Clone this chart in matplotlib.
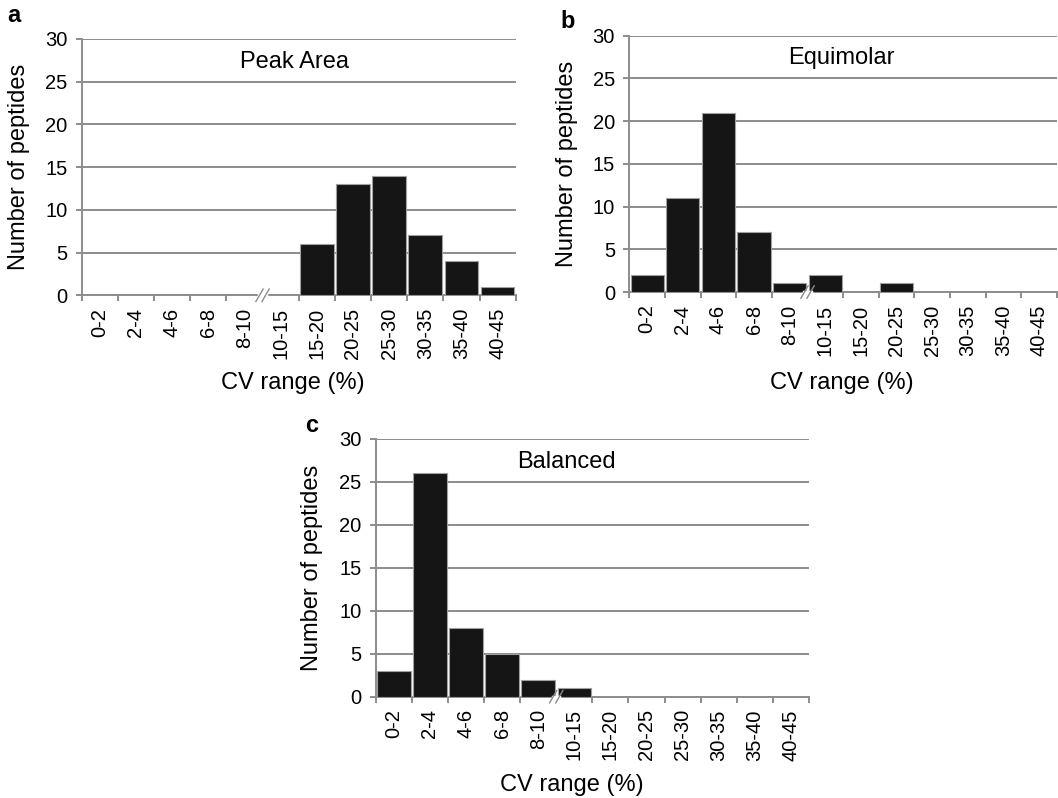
import matplotlib
matplotlib.use("Agg")
import matplotlib.pyplot as plt
from matplotlib.transforms import Affine2D, ScaledTranslation

plt.rcParams['font.family'] = ['Liberation Sans', 'DejaVu Sans']

cv_ranges = ['0-2', '2-4', '4-6', '6-8', '8-10', '10-15',
             '15-20', '20-25', '25-30', '30-35', '35-40', '40-45']

peak_area = [0, 0, 0, 0, 0, 0, 6, 13, 14, 7, 4, 1]
equimolar = [2, 11, 21, 7, 1, 2, 0, 1, 0, 0, 0, 0]
balanced = [3, 26, 8, 5, 2, 1, 0, 0, 0, 0, 0, 0]

GRID = '#8c8c8c'
BAR = '#151515'
TICK_FS = 14.5
LABEL_FS = 17

W, H = 1058, 798
fig = plt.figure(figsize=(W / 100, H / 100), dpi=100)


def px_axes(left, top, right, bottom):
    return fig.add_axes([left / W, 1 - bottom / H, (right - left) / W, (bottom - top) / H])


def draw_panel(ax, counts, title, title_x, xlab_pos, ylab_x):
    n = len(cv_ranges)
    xs = list(range(n))
    ax.set_axisbelow(True)
    ax.bar(xs, counts, width=0.93, color=BAR, edgecolor='#a0a0a0', linewidth=0.8, zorder=3)
    ax.set_xlim(-0.5, n - 0.5)
    ax.set_ylim(0, 30)
    ax.set_yticks(range(0, 31, 5))
    ax.yaxis.grid(True, color=GRID, linewidth=1.4)
    for s in ('top', 'right'):
        ax.spines[s].set_visible(False)
    for s in ('left', 'bottom'):
        ax.spines[s].set_color(GRID)
        ax.spines[s].set_linewidth(1.4)
    ax.tick_params(axis='y', length=4.3, width=1.4, color=GRID, pad=6, labelsize=TICK_FS)

    # labels at bin centres, tick marks at bin edges (none at the axis break)
    ax.set_xticks(xs)
    ax.set_xticklabels(cv_ranges, rotation=90, fontsize=TICK_FS)
    ax.tick_params(axis='x', length=0, pad=9)
    edges = [i - 0.5 for i in range(n + 1) if i != 5]
    ax.set_xticks(edges, minor=True)
    ax.tick_params(axis='x', which='minor', length=4, width=1.4, color=GRID)

    # axis break "//" between 8-10 and 10-15
    brk = Affine2D().scale(fig.dpi / 72) + ScaledTranslation(4.5, 0, ax.transData)
    ax.plot([-2.2, 2.2], [0, 0], color='white', linewidth=2.5, transform=brk, clip_on=False, zorder=5)
    for dx in (-2.2, 2.2):
        ax.plot([dx - 2.6, dx + 2.6], [-4.5, 4.5], color=GRID, linewidth=1.0,
                transform=brk, clip_on=False, zorder=6)

    ax.text(title_x, 0.912, title, transform=ax.transAxes, ha='center', va='center', fontsize=LABEL_FS)
    ax.set_xlabel('CV range (%)', fontsize=LABEL_FS, va='center')
    ax.xaxis.set_label_coords(*xlab_pos)
    ax.set_ylabel('Number of peptides', fontsize=LABEL_FS, va='center')
    ax.yaxis.set_label_coords(ylab_x, 0.5)


ax_a = px_axes(81.7, 39, 515.7, 295.3)
ax_b = px_axes(629.3, 35.7, 1057, 292)
ax_c = px_axes(375.7, 439, 809, 696.7)

draw_panel(ax_a, peak_area, 'Peak Area', 0.49, (0.487, -0.342), -0.1445)
draw_panel(ax_b, equimolar, 'Equimolar', 0.497, (0.496, -0.355), -0.146)
draw_panel(ax_c, balanced, 'Balanced', 0.44, (0.452, -0.343), -0.148)

fig.text(14 / W, 1 - 16 / H, 'a', fontsize=LABEL_FS, fontweight='bold', ha='center', va='center')
fig.text(568 / W, 1 - 22 / H, 'b', fontsize=LABEL_FS, fontweight='bold', ha='center', va='center')
fig.text(312 / W, 1 - 426 / H, 'c', fontsize=LABEL_FS, fontweight='bold', ha='center', va='center')

fig.savefig('out.png', dpi=100)
